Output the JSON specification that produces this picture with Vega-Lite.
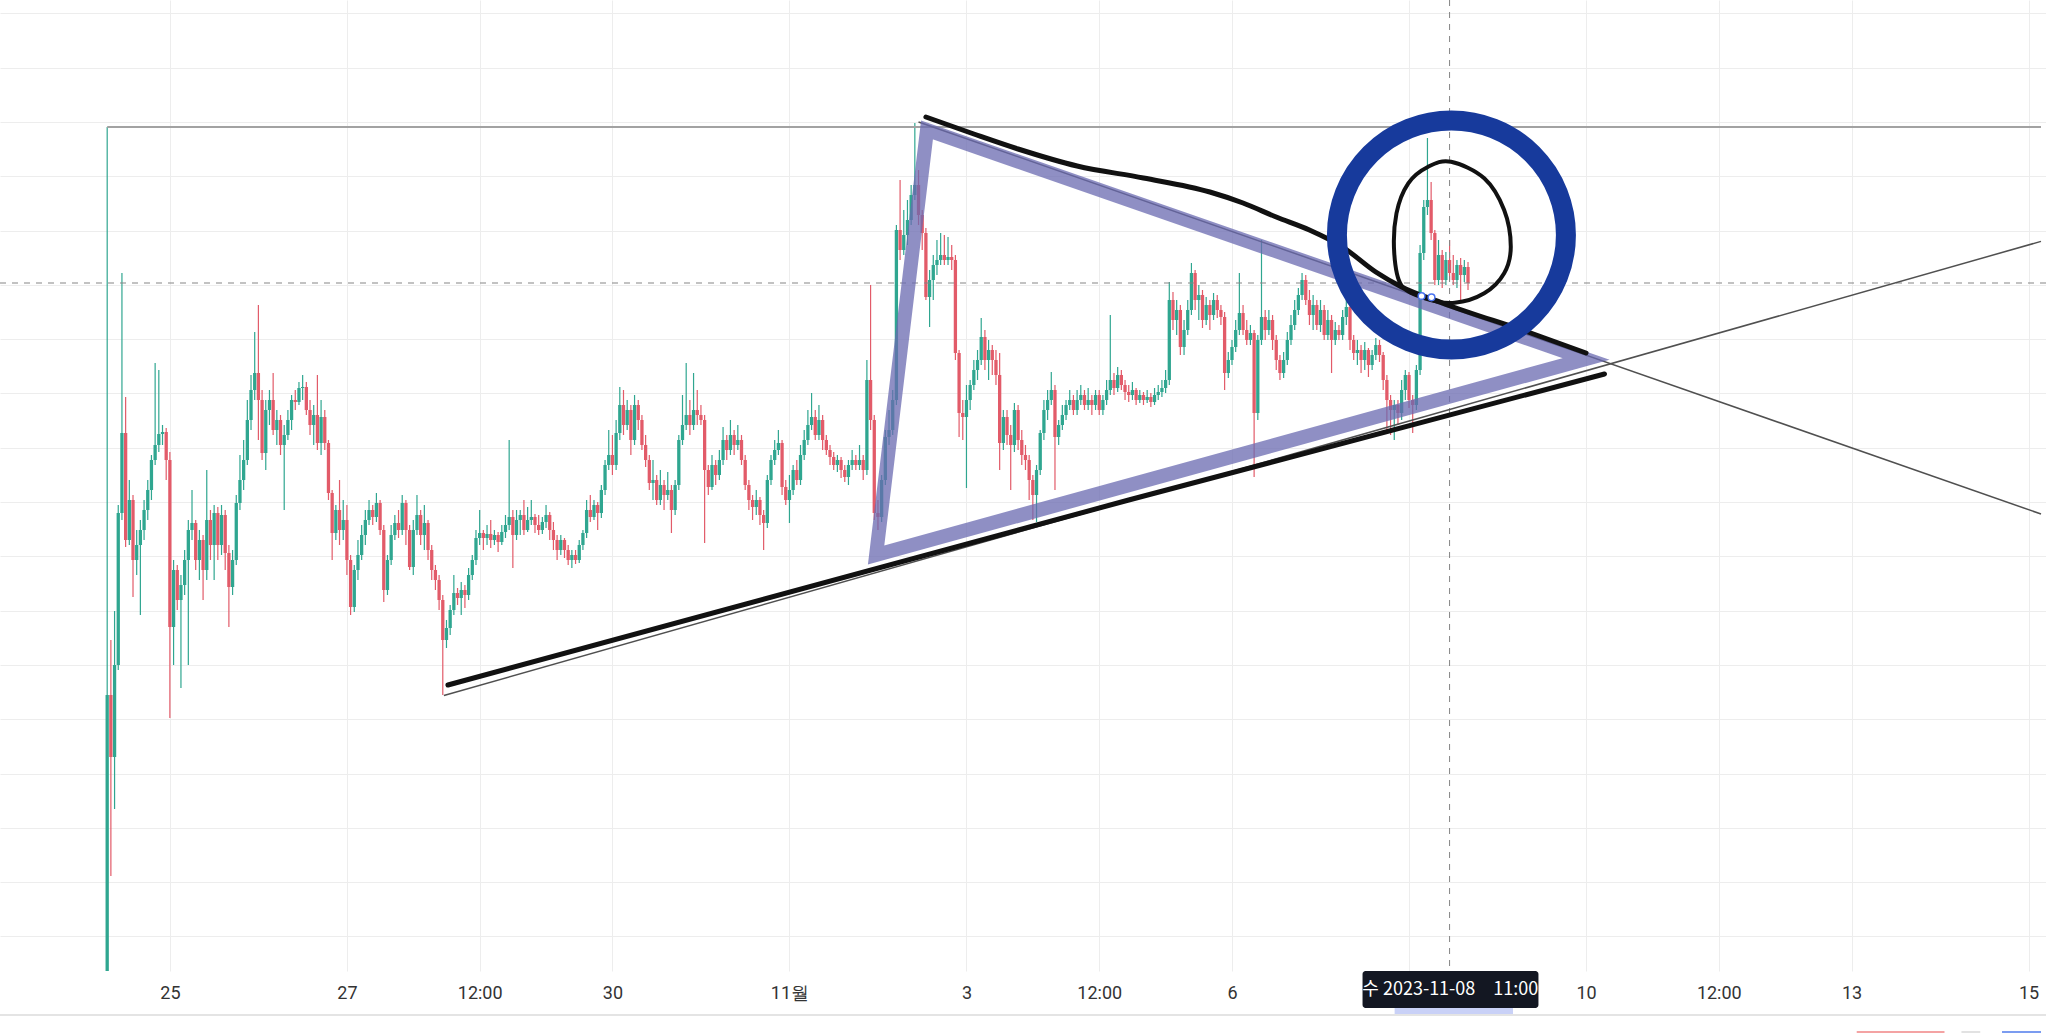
{
"$schema": "https://vega.github.io/schema/vega-lite/v6.json",
"width": 2046,
"height": 971,
"autosize": {"type": "none"},
"padding": {"left": 0, "top": 0, "right": 0, "bottom": 62},
"background": "#ffffff",
"config": {"view": {"stroke": null}},
"datasets": {
"candles": [
{"h":-17,"o":28,"c":305,"hi":873,"lo":28},
{"h":-16,"o":305,"c":243,"hi":360,"lo":124},
{"h":-15,"o":243,"c":335,"hi":389,"lo":191},
{"h":-14,"o":335,"c":487,"hi":495,"lo":330},
{"h":-13,"o":487,"c":567,"hi":727,"lo":480},
{"h":-12,"o":567,"c":460,"hi":603,"lo":453},
{"h":-11,"o":460,"c":500,"hi":520,"lo":455},
{"h":-10,"o":500,"c":440,"hi":505,"lo":403},
{"h":-9,"o":440,"c":455,"hi":470,"lo":425},
{"h":-8,"o":455,"c":470,"hi":480,"lo":385},
{"h":-7,"o":470,"c":490,"hi":500,"lo":460},
{"h":-6,"o":490,"c":510,"hi":520,"lo":480},
{"h":-5,"o":510,"c":540,"hi":545,"lo":500},
{"h":-4,"o":540,"c":555,"hi":637,"lo":535},
{"h":-3,"o":555,"c":566,"hi":630,"lo":548},
{"h":-2,"o":566,"c":568,"hi":575,"lo":555},
{"h":-1,"o":568,"c":540,"hi":572,"lo":520},
{"h":0,"o":540,"c":373,"hi":548,"lo":282},
{"h":1,"o":373,"c":430,"hi":440,"lo":335},
{"h":2,"o":430,"c":400,"hi":435,"lo":390},
{"h":3,"o":400,"c":415,"hi":425,"lo":312},
{"h":4,"o":415,"c":440,"hi":450,"lo":405},
{"h":5,"o":440,"c":470,"hi":480,"lo":335},
{"h":6,"o":470,"c":477,"hi":510,"lo":460},
{"h":7,"o":477,"c":440,"hi":480,"lo":430},
{"h":8,"o":440,"c":460,"hi":470,"lo":420},
{"h":9,"o":460,"c":430,"hi":465,"lo":400},
{"h":10,"o":430,"c":480,"hi":530,"lo":420},
{"h":11,"o":480,"c":455,"hi":490,"lo":440},
{"h":12,"o":455,"c":487,"hi":495,"lo":420},
{"h":13,"o":487,"c":455,"hi":493,"lo":440},
{"h":14,"o":455,"c":485,"hi":495,"lo":445},
{"h":15,"o":485,"c":447,"hi":490,"lo":430},
{"h":16,"o":447,"c":413,"hi":455,"lo":373},
{"h":17,"o":413,"c":440,"hi":450,"lo":405},
{"h":18,"o":440,"c":497,"hi":505,"lo":435},
{"h":19,"o":497,"c":520,"hi":545,"lo":490},
{"h":20,"o":520,"c":540,"hi":560,"lo":510},
{"h":21,"o":540,"c":580,"hi":600,"lo":535},
{"h":22,"o":580,"c":610,"hi":625,"lo":570},
{"h":23,"o":610,"c":627,"hi":668,"lo":600},
{"h":24,"o":627,"c":600,"hi":695,"lo":560},
{"h":25,"o":600,"c":547,"hi":610,"lo":540},
{"h":26,"o":547,"c":590,"hi":600,"lo":530},
{"h":27,"o":590,"c":600,"hi":610,"lo":575},
{"h":28,"o":600,"c":570,"hi":627,"lo":565},
{"h":29,"o":570,"c":580,"hi":590,"lo":555},
{"h":30,"o":580,"c":555,"hi":585,"lo":545},
{"h":31,"o":555,"c":565,"hi":575,"lo":490},
{"h":32,"o":565,"c":580,"hi":590,"lo":560},
{"h":33,"o":580,"c":600,"hi":605,"lo":570},
{"h":34,"o":600,"c":598,"hi":610,"lo":590},
{"h":35,"o":598,"c":612,"hi":618,"lo":595},
{"h":36,"o":612,"c":613,"hi":625,"lo":600},
{"h":37,"o":613,"c":590,"hi":618,"lo":585},
{"h":38,"o":590,"c":575,"hi":600,"lo":565},
{"h":39,"o":575,"c":585,"hi":595,"lo":555},
{"h":40,"o":585,"c":557,"hi":625,"lo":550},
{"h":41,"o":557,"c":583,"hi":600,"lo":545},
{"h":42,"o":583,"c":557,"hi":590,"lo":550},
{"h":43,"o":557,"c":507,"hi":560,"lo":500},
{"h":44,"o":507,"c":467,"hi":510,"lo":440},
{"h":45,"o":467,"c":490,"hi":495,"lo":460},
{"h":46,"o":490,"c":470,"hi":520,"lo":455},
{"h":47,"o":470,"c":480,"hi":500,"lo":460},
{"h":48,"o":480,"c":440,"hi":495,"lo":425},
{"h":49,"o":440,"c":393,"hi":445,"lo":385},
{"h":50,"o":393,"c":430,"hi":435,"lo":388},
{"h":51,"o":430,"c":445,"hi":460,"lo":420},
{"h":52,"o":445,"c":465,"hi":475,"lo":440},
{"h":53,"o":465,"c":480,"hi":490,"lo":455},
{"h":54,"o":480,"c":490,"hi":500,"lo":475},
{"h":55,"o":490,"c":483,"hi":495,"lo":475},
{"h":56,"o":483,"c":497,"hi":507,"lo":478},
{"h":57,"o":497,"c":470,"hi":500,"lo":465},
{"h":58,"o":470,"c":410,"hi":475,"lo":398},
{"h":59,"o":410,"c":440,"hi":445,"lo":405},
{"h":60,"o":440,"c":465,"hi":475,"lo":435},
{"h":61,"o":465,"c":477,"hi":485,"lo":460},
{"h":62,"o":477,"c":470,"hi":490,"lo":462},
{"h":63,"o":470,"c":497,"hi":505,"lo":465},
{"h":64,"o":497,"c":470,"hi":500,"lo":455},
{"h":65,"o":470,"c":433,"hi":475,"lo":430},
{"h":66,"o":433,"c":470,"hi":480,"lo":425},
{"h":67,"o":470,"c":485,"hi":505,"lo":465},
{"h":68,"o":485,"c":465,"hi":490,"lo":455},
{"h":69,"o":465,"c":477,"hi":495,"lo":450},
{"h":70,"o":477,"c":450,"hi":480,"lo":440},
{"h":71,"o":450,"c":430,"hi":455,"lo":420},
{"h":72,"o":430,"c":420,"hi":435,"lo":410},
{"h":73,"o":420,"c":400,"hi":425,"lo":390},
{"h":74,"o":400,"c":360,"hi":405,"lo":305},
{"h":75,"o":360,"c":372,"hi":380,"lo":352},
{"h":76,"o":372,"c":390,"hi":395,"lo":365},
{"h":77,"o":390,"c":407,"hi":425,"lo":385},
{"h":78,"o":407,"c":402,"hi":412,"lo":395},
{"h":79,"o":402,"c":410,"hi":418,"lo":385},
{"h":80,"o":410,"c":405,"hi":415,"lo":392},
{"h":81,"o":405,"c":425,"hi":432,"lo":400},
{"h":82,"o":425,"c":440,"hi":445,"lo":420},
{"h":83,"o":440,"c":462,"hi":470,"lo":435},
{"h":84,"o":462,"c":467,"hi":490,"lo":455},
{"h":85,"o":467,"c":462,"hi":470,"lo":450},
{"h":86,"o":462,"c":466,"hi":475,"lo":455},
{"h":87,"o":466,"c":460,"hi":480,"lo":452},
{"h":88,"o":460,"c":465,"hi":470,"lo":455},
{"h":89,"o":465,"c":458,"hi":468,"lo":448},
{"h":90,"o":458,"c":468,"hi":475,"lo":455},
{"h":91,"o":468,"c":475,"hi":485,"lo":462},
{"h":92,"o":475,"c":483,"hi":560,"lo":470},
{"h":93,"o":483,"c":465,"hi":490,"lo":432},
{"h":94,"o":465,"c":480,"hi":490,"lo":460},
{"h":95,"o":480,"c":485,"hi":490,"lo":465},
{"h":96,"o":485,"c":470,"hi":500,"lo":465},
{"h":97,"o":470,"c":480,"hi":493,"lo":468},
{"h":98,"o":480,"c":483,"hi":500,"lo":475},
{"h":99,"o":483,"c":475,"hi":486,"lo":467},
{"h":100,"o":475,"c":470,"hi":485,"lo":465},
{"h":101,"o":470,"c":478,"hi":483,"lo":466},
{"h":102,"o":478,"c":485,"hi":495,"lo":472},
{"h":103,"o":485,"c":470,"hi":488,"lo":460},
{"h":104,"o":470,"c":460,"hi":478,"lo":450},
{"h":105,"o":460,"c":450,"hi":465,"lo":440},
{"h":106,"o":450,"c":460,"hi":465,"lo":445},
{"h":107,"o":460,"c":450,"hi":462,"lo":442},
{"h":108,"o":450,"c":440,"hi":455,"lo":435},
{"h":109,"o":440,"c":445,"hi":450,"lo":432},
{"h":110,"o":445,"c":440,"hi":450,"lo":436},
{"h":111,"o":440,"c":455,"hi":460,"lo":437},
{"h":112,"o":455,"c":467,"hi":470,"lo":450},
{"h":113,"o":467,"c":490,"hi":500,"lo":462},
{"h":114,"o":490,"c":483,"hi":505,"lo":478},
{"h":115,"o":483,"c":495,"hi":500,"lo":480},
{"h":116,"o":495,"c":487,"hi":498,"lo":470},
{"h":117,"o":487,"c":510,"hi":515,"lo":482},
{"h":118,"o":510,"c":535,"hi":540,"lo":505},
{"h":119,"o":535,"c":545,"hi":570,"lo":530},
{"h":120,"o":545,"c":535,"hi":565,"lo":525},
{"h":121,"o":535,"c":567,"hi":580,"lo":530},
{"h":122,"o":567,"c":595,"hi":613,"lo":560},
{"h":123,"o":595,"c":575,"hi":610,"lo":565},
{"h":124,"o":575,"c":590,"hi":600,"lo":570},
{"h":125,"o":590,"c":560,"hi":595,"lo":545},
{"h":126,"o":560,"c":595,"hi":605,"lo":555},
{"h":127,"o":595,"c":580,"hi":600,"lo":570},
{"h":128,"o":580,"c":555,"hi":585,"lo":550},
{"h":129,"o":555,"c":540,"hi":565,"lo":533},
{"h":130,"o":540,"c":517,"hi":545,"lo":510},
{"h":131,"o":517,"c":520,"hi":540,"lo":500},
{"h":132,"o":520,"c":500,"hi":525,"lo":495},
{"h":133,"o":500,"c":515,"hi":530,"lo":495},
{"h":134,"o":515,"c":505,"hi":520,"lo":490},
{"h":135,"o":505,"c":510,"hi":528,"lo":500},
{"h":136,"o":510,"c":490,"hi":515,"lo":467},
{"h":137,"o":490,"c":515,"hi":520,"lo":485},
{"h":138,"o":515,"c":560,"hi":565,"lo":510},
{"h":139,"o":560,"c":575,"hi":605,"lo":555},
{"h":140,"o":575,"c":585,"hi":637,"lo":570},
{"h":141,"o":585,"c":575,"hi":600,"lo":565},
{"h":142,"o":575,"c":590,"hi":627,"lo":570},
{"h":143,"o":590,"c":585,"hi":610,"lo":575},
{"h":144,"o":585,"c":580,"hi":595,"lo":575},
{"h":145,"o":580,"c":530,"hi":585,"lo":457},
{"h":146,"o":530,"c":513,"hi":535,"lo":505},
{"h":147,"o":513,"c":535,"hi":545,"lo":510},
{"h":148,"o":535,"c":525,"hi":540,"lo":515},
{"h":149,"o":525,"c":540,"hi":550,"lo":520},
{"h":150,"o":540,"c":560,"hi":573,"lo":535},
{"h":151,"o":560,"c":550,"hi":565,"lo":540},
{"h":152,"o":550,"c":565,"hi":580,"lo":545},
{"h":153,"o":565,"c":555,"hi":570,"lo":545},
{"h":154,"o":555,"c":560,"hi":575,"lo":550},
{"h":155,"o":560,"c":540,"hi":565,"lo":535},
{"h":156,"o":540,"c":515,"hi":545,"lo":510},
{"h":157,"o":515,"c":500,"hi":520,"lo":490},
{"h":158,"o":500,"c":493,"hi":505,"lo":480},
{"h":159,"o":493,"c":500,"hi":510,"lo":485},
{"h":160,"o":500,"c":485,"hi":503,"lo":475},
{"h":161,"o":485,"c":477,"hi":490,"lo":450},
{"h":162,"o":477,"c":520,"hi":525,"lo":472},
{"h":163,"o":520,"c":540,"hi":545,"lo":515},
{"h":164,"o":540,"c":550,"hi":560,"lo":535},
{"h":165,"o":550,"c":557,"hi":570,"lo":545},
{"h":166,"o":557,"c":513,"hi":560,"lo":505},
{"h":167,"o":513,"c":500,"hi":520,"lo":495},
{"h":168,"o":500,"c":510,"hi":525,"lo":477},
{"h":169,"o":510,"c":530,"hi":535,"lo":505},
{"h":170,"o":530,"c":520,"hi":540,"lo":515},
{"h":171,"o":520,"c":545,"hi":555,"lo":515},
{"h":172,"o":545,"c":560,"hi":570,"lo":540},
{"h":173,"o":560,"c":575,"hi":590,"lo":555},
{"h":174,"o":575,"c":583,"hi":607,"lo":570},
{"h":175,"o":583,"c":565,"hi":590,"lo":560},
{"h":176,"o":565,"c":580,"hi":595,"lo":560},
{"h":177,"o":580,"c":560,"hi":585,"lo":550},
{"h":178,"o":560,"c":550,"hi":565,"lo":545},
{"h":179,"o":550,"c":543,"hi":555,"lo":535},
{"h":180,"o":543,"c":535,"hi":548,"lo":530},
{"h":181,"o":535,"c":540,"hi":545,"lo":528},
{"h":182,"o":540,"c":530,"hi":543,"lo":522},
{"h":183,"o":530,"c":523,"hi":535,"lo":518},
{"h":184,"o":523,"c":535,"hi":540,"lo":515},
{"h":185,"o":535,"c":540,"hi":550,"lo":530},
{"h":186,"o":540,"c":535,"hi":545,"lo":530},
{"h":187,"o":535,"c":540,"hi":555,"lo":530},
{"h":188,"o":540,"c":530,"hi":545,"lo":520},
{"h":189,"o":530,"c":620,"hi":640,"lo":525},
{"h":190,"o":620,"c":580,"hi":715,"lo":570},
{"h":191,"o":580,"c":487,"hi":585,"lo":480},
{"h":192,"o":487,"c":483,"hi":500,"lo":470},
{"h":193,"o":483,"c":520,"hi":525,"lo":478},
{"h":194,"o":520,"c":563,"hi":570,"lo":515},
{"h":195,"o":563,"c":570,"hi":590,"lo":555},
{"h":196,"o":570,"c":600,"hi":610,"lo":565},
{"h":197,"o":600,"c":770,"hi":775,"lo":595},
{"h":198,"o":770,"c":750,"hi":820,"lo":740},
{"h":199,"o":750,"c":765,"hi":790,"lo":745},
{"h":200,"o":765,"c":780,"hi":800,"lo":755},
{"h":201,"o":780,"c":805,"hi":815,"lo":775},
{"h":202,"o":805,"c":815,"hi":877,"lo":800},
{"h":203,"o":815,"c":785,"hi":830,"lo":775},
{"h":204,"o":785,"c":767,"hi":790,"lo":750},
{"h":205,"o":767,"c":703,"hi":772,"lo":700},
{"h":206,"o":703,"c":720,"hi":730,"lo":673},
{"h":207,"o":720,"c":735,"hi":745,"lo":700},
{"h":208,"o":735,"c":740,"hi":760,"lo":725},
{"h":209,"o":740,"c":745,"hi":767,"lo":735},
{"h":210,"o":745,"c":740,"hi":765,"lo":735},
{"h":211,"o":740,"c":743,"hi":763,"lo":735},
{"h":212,"o":743,"c":740,"hi":755,"lo":730},
{"h":213,"o":740,"c":647,"hi":745,"lo":640},
{"h":214,"o":647,"c":587,"hi":650,"lo":563},
{"h":215,"o":587,"c":583,"hi":600,"lo":560},
{"h":216,"o":583,"c":600,"hi":615,"lo":512},
{"h":217,"o":600,"c":615,"hi":620,"lo":590},
{"h":218,"o":615,"c":630,"hi":640,"lo":610},
{"h":219,"o":630,"c":640,"hi":650,"lo":620},
{"h":220,"o":640,"c":663,"hi":682,"lo":635},
{"h":221,"o":663,"c":640,"hi":670,"lo":630},
{"h":222,"o":640,"c":650,"hi":660,"lo":620},
{"h":223,"o":650,"c":640,"hi":655,"lo":625},
{"h":224,"o":640,"c":625,"hi":650,"lo":615},
{"h":225,"o":625,"c":557,"hi":647,"lo":530},
{"h":226,"o":557,"c":583,"hi":590,"lo":550},
{"h":227,"o":583,"c":565,"hi":590,"lo":555},
{"h":228,"o":565,"c":555,"hi":575,"lo":510},
{"h":229,"o":555,"c":590,"hi":597,"lo":548},
{"h":230,"o":590,"c":560,"hi":595,"lo":550},
{"h":231,"o":560,"c":545,"hi":570,"lo":535},
{"h":232,"o":545,"c":540,"hi":555,"lo":530},
{"h":233,"o":540,"c":520,"hi":545,"lo":500},
{"h":234,"o":520,"c":505,"hi":525,"lo":480},
{"h":235,"o":505,"c":530,"hi":535,"lo":478},
{"h":236,"o":530,"c":567,"hi":570,"lo":525},
{"h":237,"o":567,"c":590,"hi":600,"lo":560},
{"h":238,"o":590,"c":600,"hi":610,"lo":580},
{"h":239,"o":600,"c":610,"hi":628,"lo":595},
{"h":240,"o":610,"c":563,"hi":615,"lo":510},
{"h":241,"o":563,"c":575,"hi":580,"lo":555},
{"h":242,"o":575,"c":585,"hi":595,"lo":570},
{"h":243,"o":585,"c":595,"hi":600,"lo":580},
{"h":244,"o":595,"c":600,"hi":610,"lo":590},
{"h":245,"o":600,"c":590,"hi":605,"lo":585},
{"h":246,"o":590,"c":600,"hi":610,"lo":585},
{"h":247,"o":600,"c":605,"hi":615,"lo":595},
{"h":248,"o":605,"c":595,"hi":610,"lo":590},
{"h":249,"o":595,"c":600,"hi":612,"lo":590},
{"h":250,"o":600,"c":595,"hi":605,"lo":585},
{"h":251,"o":595,"c":605,"hi":610,"lo":590},
{"h":252,"o":605,"c":590,"hi":610,"lo":585},
{"h":253,"o":590,"c":600,"hi":605,"lo":585},
{"h":254,"o":600,"c":610,"hi":620,"lo":595},
{"h":255,"o":610,"c":620,"hi":685,"lo":605},
{"h":256,"o":620,"c":612,"hi":627,"lo":605},
{"h":257,"o":612,"c":625,"hi":633,"lo":608},
{"h":258,"o":625,"c":615,"hi":630,"lo":610},
{"h":259,"o":615,"c":608,"hi":620,"lo":600},
{"h":260,"o":608,"c":605,"hi":615,"lo":598},
{"h":261,"o":605,"c":610,"hi":618,"lo":600},
{"h":262,"o":610,"c":600,"hi":612,"lo":595},
{"h":263,"o":600,"c":605,"hi":610,"lo":597},
{"h":264,"o":605,"c":600,"hi":608,"lo":595},
{"h":265,"o":600,"c":603,"hi":610,"lo":597},
{"h":266,"o":603,"c":598,"hi":607,"lo":593},
{"h":267,"o":598,"c":605,"hi":612,"lo":595},
{"h":268,"o":605,"c":608,"hi":615,"lo":600},
{"h":269,"o":608,"c":612,"hi":620,"lo":603},
{"h":270,"o":612,"c":620,"hi":630,"lo":607},
{"h":271,"o":620,"c":700,"hi":718,"lo":615},
{"h":272,"o":700,"c":680,"hi":708,"lo":670},
{"h":273,"o":680,"c":690,"hi":700,"lo":665},
{"h":274,"o":690,"c":653,"hi":695,"lo":645},
{"h":275,"o":653,"c":670,"hi":680,"lo":645},
{"h":276,"o":670,"c":690,"hi":700,"lo":665},
{"h":277,"o":690,"c":727,"hi":737,"lo":685},
{"h":278,"o":727,"c":700,"hi":730,"lo":690},
{"h":279,"o":700,"c":705,"hi":715,"lo":680},
{"h":280,"o":705,"c":680,"hi":710,"lo":672},
{"h":281,"o":680,"c":695,"hi":703,"lo":675},
{"h":282,"o":695,"c":685,"hi":700,"lo":670},
{"h":283,"o":685,"c":700,"hi":707,"lo":680},
{"h":284,"o":700,"c":690,"hi":705,"lo":682},
{"h":285,"o":690,"c":683,"hi":695,"lo":675},
{"h":286,"o":683,"c":627,"hi":688,"lo":610},
{"h":287,"o":627,"c":640,"hi":648,"lo":622},
{"h":288,"o":640,"c":653,"hi":660,"lo":635},
{"h":289,"o":653,"c":670,"hi":680,"lo":648},
{"h":290,"o":670,"c":687,"hi":727,"lo":665},
{"h":291,"o":687,"c":670,"hi":695,"lo":665},
{"h":292,"o":670,"c":660,"hi":680,"lo":655},
{"h":293,"o":660,"c":667,"hi":675,"lo":655},
{"h":294,"o":667,"c":587,"hi":670,"lo":523},
{"h":295,"o":587,"c":660,"hi":665,"lo":580},
{"h":296,"o":660,"c":683,"hi":760,"lo":655},
{"h":297,"o":683,"c":670,"hi":690,"lo":660},
{"h":298,"o":670,"c":680,"hi":690,"lo":665},
{"h":299,"o":680,"c":660,"hi":685,"lo":650},
{"h":300,"o":660,"c":640,"hi":665,"lo":630},
{"h":301,"o":640,"c":627,"hi":645,"lo":620},
{"h":302,"o":627,"c":640,"hi":648,"lo":622},
{"h":303,"o":640,"c":660,"hi":668,"lo":635},
{"h":304,"o":660,"c":675,"hi":685,"lo":655},
{"h":305,"o":675,"c":690,"hi":700,"lo":670},
{"h":306,"o":690,"c":705,"hi":712,"lo":685},
{"h":307,"o":705,"c":720,"hi":727,"lo":700},
{"h":308,"o":720,"c":700,"hi":725,"lo":695},
{"h":309,"o":700,"c":685,"hi":710,"lo":675},
{"h":310,"o":685,"c":695,"hi":705,"lo":670},
{"h":311,"o":695,"c":675,"hi":700,"lo":670},
{"h":312,"o":675,"c":690,"hi":700,"lo":668},
{"h":313,"o":690,"c":665,"hi":695,"lo":660},
{"h":314,"o":665,"c":680,"hi":690,"lo":660},
{"h":315,"o":680,"c":660,"hi":685,"lo":627},
{"h":316,"o":660,"c":670,"hi":678,"lo":655},
{"h":317,"o":670,"c":665,"hi":675,"lo":660},
{"h":318,"o":665,"c":683,"hi":690,"lo":660},
{"h":319,"o":683,"c":693,"hi":700,"lo":675},
{"h":320,"o":693,"c":660,"hi":697,"lo":650},
{"h":321,"o":660,"c":647,"hi":665,"lo":640},
{"h":322,"o":647,"c":650,"hi":660,"lo":635},
{"h":323,"o":650,"c":640,"hi":655,"lo":627},
{"h":324,"o":640,"c":650,"hi":658,"lo":630},
{"h":325,"o":650,"c":635,"hi":652,"lo":623},
{"h":326,"o":635,"c":645,"hi":650,"lo":630},
{"h":327,"o":645,"c":655,"hi":662,"lo":640},
{"h":328,"o":655,"c":645,"hi":660,"lo":638},
{"h":329,"o":645,"c":620,"hi":648,"lo":610},
{"h":330,"o":620,"c":600,"hi":625,"lo":570},
{"h":331,"o":600,"c":590,"hi":605,"lo":565},
{"h":332,"o":590,"c":595,"hi":600,"lo":560},
{"h":333,"o":595,"c":587,"hi":600,"lo":575},
{"h":334,"o":587,"c":610,"hi":620,"lo":580},
{"h":335,"o":610,"c":625,"hi":630,"lo":600},
{"h":336,"o":625,"c":600,"hi":628,"lo":592},
{"h":337,"o":600,"c":595,"hi":605,"lo":567},
{"h":338,"o":595,"c":630,"hi":635,"lo":590},
{"h":339,"o":630,"c":747,"hi":755,"lo":625},
{"h":340,"o":747,"c":793,"hi":800,"lo":740},
{"h":341,"o":793,"c":800,"hi":862,"lo":785},
{"h":342,"o":800,"c":767,"hi":818,"lo":760},
{"h":343,"o":767,"c":720,"hi":770,"lo":715},
{"h":344,"o":720,"c":745,"hi":760,"lo":715},
{"h":345,"o":745,"c":720,"hi":750,"lo":712},
{"h":346,"o":720,"c":740,"hi":748,"lo":715},
{"h":347,"o":740,"c":727,"hi":760,"lo":720},
{"h":348,"o":727,"c":720,"hi":745,"lo":715},
{"h":349,"o":720,"c":735,"hi":740,"lo":712},
{"h":350,"o":735,"c":725,"hi":742,"lo":700},
{"h":351,"o":725,"c":733,"hi":740,"lo":718},
{"h":352,"o":733,"c":717,"hi":738,"lo":710}
],
"lines": [
{"g":"lo","i":0,"h":75.4,"p":315},
{"g":"lo","i":1,"h":260,"p":500},
{"g":"lo","i":2,"h":389,"p":626},
{"g":"up","i":0,"h":205,"p":883},
{"g":"up","i":1,"h":218,"p":866},
{"g":"up","i":2,"h":230,"p":851},
{"g":"up","i":3,"h":246,"p":834},
{"g":"up","i":4,"h":264,"p":822},
{"g":"up","i":5,"h":282,"p":808},
{"g":"up","i":6,"h":291,"p":797},
{"g":"up","i":7,"h":300,"p":783},
{"g":"up","i":8,"h":309,"p":770},
{"g":"up","i":9,"h":318,"p":753},
{"g":"up","i":10,"h":327,"p":728},
{"g":"up","i":11,"h":334,"p":713},
{"g":"up","i":12,"h":345,"p":697},
{"g":"up","i":13,"h":369,"p":667},
{"g":"up","i":14,"h":384,"p":647},
{"g":"tl","i":0,"h":74.3,"p":304.5},
{"g":"tl","i":1,"h":507.37,"p":758.6},
{"g":"tu","i":0,"h":203,"p":878},
{"g":"tu","i":1,"h":507.37,"p":486},
{"g":"tri","i":0,"h":191.5,"p":445},
{"g":"tri","i":1,"h":205.3,"p":870},
{"g":"tri","i":2,"h":384,"p":641},
{"g":"tri","i":3,"h":191.5,"p":445},
{"g":"tri","i":4,"h":205.3,"p":870},
{"g":"egg","i":0,"h":347.4,"p":838.3},
{"g":"egg","i":1,"h":356.4,"p":821.7},
{"g":"egg","i":2,"h":361.8,"p":790},
{"g":"egg","i":3,"h":363.6,"p":753.3},
{"g":"egg","i":4,"h":361.8,"p":726.7},
{"g":"egg","i":5,"h":356.4,"p":706.7},
{"g":"egg","i":6,"h":348.4,"p":697.3},
{"g":"egg","i":7,"h":340.3,"p":701.7},
{"g":"egg","i":8,"h":333.9,"p":715},
{"g":"egg","i":9,"h":332,"p":746.7},
{"g":"egg","i":10,"h":332.6,"p":786.7},
{"g":"egg","i":11,"h":335.8,"p":816.7},
{"g":"egg","i":12,"h":341.2,"p":833.3}
]
},
"layer": [
{
"data": {"name": "candles"},
"mark": {"type": "rule", "strokeWidth": 1.2, "clip": true},
"encoding": {
"x": {"field": "h", "type": "quantitative", "title": null,
"scale": {"domain": [-44.71, 507.37], "nice": false, "zero": false},
"axis": {"values": [0,48,84,120,168,216,252,288,336,384,420,456,504],
"labelExpr": "datum.value == 168 ? '11월' : datum.value == 336 ? '' : datum.value % 24 == 12 ? '12:00' : utcFormat(1698192000000 + datum.value * 3600000, '%-d')",
"grid": true, "gridColor": "#ededed", "gridWidth": 1, "ticks": false, "tickSize": 0, "domain": false,
"labelFontSize": 18, "labelFont": "Liberation Sans Narrow, Roboto, sans-serif", "labelColor": "#333333",
"labelPadding": 22, "labelBaseline": "middle", "labelFlush": false, "labelOverlap": false, "labelBound": false, "title": null}},
"y": {"field": "lo", "type": "quantitative", "title": null,
"scale": {"domain": [29, 1000], "nice": false, "zero": false},
"axis": {"values": [986.7,932.4,878.1,823.8,769.5,715.2,660.9,606.6,552.3,498,443.7,389.4,335.1,280.8,226.5,172.2,117.9,63.6],
"grid": true, "gridColor": "#ededed", "labels": false, "ticks": false, "domain": false, "title": null, "minExtent": 0, "maxExtent": 0}},
"y2": {"field": "hi"},
"color": {"condition": {"test": "datum.c >= datum.o", "value": "#2fa690"}, "value": "#e25b69"}
}
},
{
"data": {"name": "candles"},
"mark": {"type": "bar", "size": 3.3, "clip": true},
"encoding": {
"x": {"field": "h", "type": "quantitative", "title": null},
"y": {"field": "o", "type": "quantitative", "title": null},
"y2": {"field": "c"},
"color": {"condition": {"test": "datum.c >= datum.o", "value": "#2fa690"}, "value": "#e25b69"}
}
},
{
"data": {"values": [{"a": -17, "b": 507.37, "v": 873}]},
"mark": {"type": "rule", "color": "#a2a2a2", "strokeWidth": 2},
"encoding": {
"x": {"field": "a", "type": "quantitative", "title": null},
"x2": {"field": "b"},
"y": {"field": "v", "type": "quantitative", "title": null}
}
},
{
"data": {"values": [{}]},
"mark": {"type": "rule", "color": "#858585", "strokeWidth": 1, "strokeDash": [6, 6]},
"encoding": {"x": {"datum": 347, "type": "quantitative", "title": null}}
},
{
"data": {"values": [{}]},
"mark": {"type": "rule", "color": "#858585", "strokeWidth": 1, "strokeDash": [6, 6]},
"encoding": {"y": {"datum": 717, "type": "quantitative", "title": null}}
},
{
"data": {"name": "lines"},
"transform": [{"filter": "datum.g == 'tl' || datum.g == 'tu'"}],
"mark": {"type": "line", "color": "#505050", "strokeWidth": 1.5, "clip": true},
"encoding": {
"x": {"field": "h", "type": "quantitative", "title": null},
"y": {"field": "p", "type": "quantitative", "title": null},
"detail": {"field": "g"},
"order": {"field": "i"}
}
},
{
"data": {"name": "lines"},
"transform": [{"filter": "datum.g == 'tri'"}],
"mark": {"type": "line", "color": "#6a6ab0", "opacity": 0.75, "strokeWidth": 14, "strokeJoin": "miter", "strokeMiterLimit": 10, "clip": true},
"encoding": {
"x": {"field": "h", "type": "quantitative", "title": null},
"y": {"field": "p", "type": "quantitative", "title": null},
"order": {"field": "i"}
}
},
{
"data": {"name": "lines"},
"transform": [{"filter": "datum.g == 'lo'"}],
"mark": {"type": "line", "color": "#111111", "strokeWidth": 5, "strokeCap": "round", "clip": true},
"encoding": {
"x": {"field": "h", "type": "quantitative", "title": null},
"y": {"field": "p", "type": "quantitative", "title": null},
"order": {"field": "i"}
}
},
{
"data": {"name": "lines"},
"transform": [{"filter": "datum.g == 'up'"}],
"mark": {"type": "line", "color": "#111111", "strokeWidth": 5, "strokeCap": "round", "interpolate": "monotone", "clip": true},
"encoding": {
"x": {"field": "h", "type": "quantitative", "title": null},
"y": {"field": "p", "type": "quantitative", "title": null},
"order": {"field": "i"}
}
},
{
"data": {"name": "lines"},
"transform": [{"filter": "datum.g == 'egg'"}],
"mark": {"type": "line", "color": "#111111", "strokeWidth": 4, "interpolate": "cardinal-closed", "clip": true},
"encoding": {
"x": {"field": "h", "type": "quantitative", "title": null},
"y": {"field": "p", "type": "quantitative", "title": null},
"order": {"field": "i"}
}
},
{
"data": {"values": [{"h": 347.5, "p": 765}]},
"mark": {"type": "point", "shape": "circle", "size": 52441, "filled": false, "strokeWidth": 20, "color": "#173a9c", "opacity": 1},
"encoding": {
"x": {"field": "h", "type": "quantitative", "title": null},
"y": {"field": "p", "type": "quantitative", "title": null}
}
},
{
"data": {"values": [{"h": 339.4, "p": 704}, {"h": 342.1, "p": 702.7}]},
"mark": {"type": "point", "shape": "circle", "size": 45, "fill": "#ffffff", "stroke": "#4a73f0", "strokeWidth": 1.5, "opacity": 1, "filled": true},
"encoding": {
"x": {"field": "h", "type": "quantitative", "title": null},
"y": {"field": "p", "type": "quantitative", "title": null}
}
},
{
"data": {"values": [{"a": 332.1, "b": 364.2, "t": -8, "u": -15}]},
"mark": {"type": "rect", "color": "#c9d1f7"},
"encoding": {
"x": {"field": "a", "type": "quantitative", "title": null},
"x2": {"field": "b"},
"y": {"field": "t", "type": "quantitative", "title": null},
"y2": {"field": "u"}
}
},
{
"data": {"values": [{}]},
"mark": {"type": "rule", "color": "#e4e4e4", "strokeWidth": 2},
"encoding": {"y": {"datum": -15, "type": "quantitative", "title": null}}
},
{
"data": {"values": [{"a": 323.4, "b": 371.1, "t": 29, "u": -8}]},
"mark": {"type": "rect", "color": "#131722", "cornerRadius": 3},
"encoding": {
"x": {"field": "a", "type": "quantitative", "title": null},
"x2": {"field": "b"},
"y": {"field": "t", "type": "quantitative", "title": null},
"y2": {"field": "u"}
}
},
{
"data": {"values": [{"h": 347.2, "p": 10.5, "s": "수 2023-11-08\u200311:00"}]},
"mark": {"type": "text", "color": "#ffffff", "fontSize": 18, "font": "Liberation Sans Narrow, Noto Sans CJK KR, Roboto, sans-serif", "align": "center", "baseline": "middle"},
"encoding": {
"x": {"field": "h", "type": "quantitative", "title": null},
"y": {"field": "p", "type": "quantitative", "title": null},
"text": {"field": "s"}
}
},
{
"data": {"values": [{"a": 457.4, "b": 481.2, "k": "r"}, {"a": 485.8, "b": 490.9, "k": "g"}, {"a": 496.8, "b": 507.37, "k": "b"}]},
"mark": {"type": "rect"},
"encoding": {
"x": {"field": "a", "type": "quantitative", "title": null},
"x2": {"field": "b"},
"y": {"datum": -31, "type": "quantitative", "title": null},
"y2": {"datum": -33},
"color": {"field": "k", "type": "nominal", "legend": null, "scale": {"domain": ["r", "g", "b"], "range": ["#f4a3a3", "#e2e2e2", "#7b9cf0"]}}
}
}
]
}
